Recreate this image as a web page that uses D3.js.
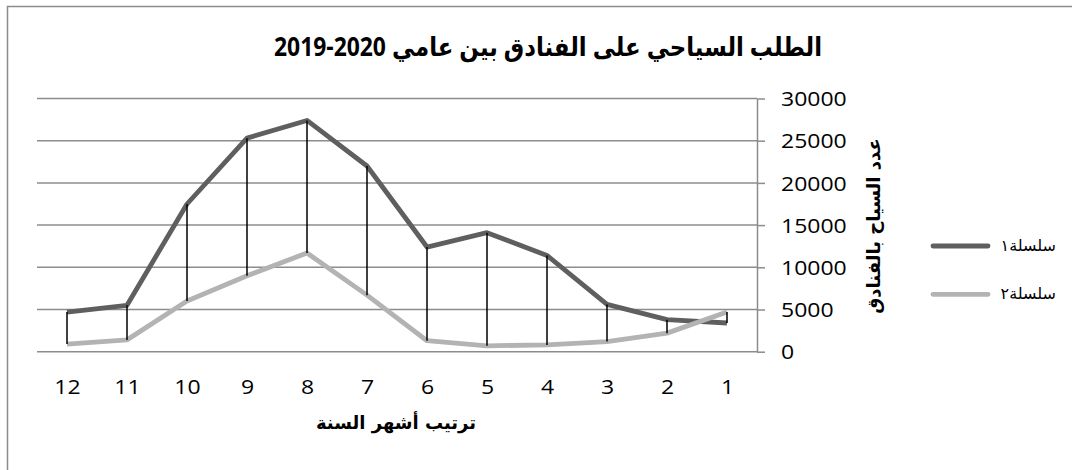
<!DOCTYPE html>
<html>
<head>
<meta charset="utf-8">
<script src="https://cdn.jsdelivr.net/npm/d3@7"></script>
<style>
  body { margin: 0; background: #fff; }
  svg { display: block; }
</style>
</head>
<body>
<div id="chart"></div>
<script>
// data (month 1 .. 12)
const months   = [1, 2, 3, 4, 5, 6, 7, 8, 9, 10, 11, 12];
const series1  = [3400, 3800, 5600, 11400, 14100, 12400, 22000, 27400, 25300, 17500, 5500, 4700];
const series2  = [4700, 2200, 1200, 800, 700, 1300, 6700, 11700, 9000, 6000, 1400, 900];
const yTicks   = [0, 5000, 10000, 15000, 20000, 25000, 30000];
const names    = ["سلسلة١", "سلسلة٢"];
const colors   = ["#5f5f5f", "#b3b3b3"];

const title  = "الطلب السياحي على الفنادق بين عامي 2020-2019";
const xTitle = "ترتيب أشهر السنة";
const yTitle = "عدد السياح بالفنادق";

const width = 1072, height = 470;
const plotLeft = 37, plotRight = 757, plotTop = 98.5, plotBottom = 351.7;
const gridColor = "#8c8c8c";
const numFont = "'Open Sans', 'DejaVu Sans', sans-serif";

const svg = d3.select("#chart").append("svg")
  .attr("width", width)
  .attr("height", height);

// outer frame (only left and top edges are visible)
svg.append("path")
  .attr("d", "M7.5," + height + "V6.5H" + width)
  .attr("fill", "none")
  .attr("stroke", gridColor)
  .attr("stroke-width", 1.5);

// month axis runs right to left
const x = d3.scalePoint()
  .domain(months.slice().reverse())
  .range([plotLeft, plotRight])
  .padding(0.5);

const y = d3.scaleLinear()
  .domain([0, 30000])
  .range([plotBottom, plotTop]);

// gridlines
svg.append("g")
  .selectAll("line")
  .data(yTicks)
  .enter().append("line")
    .attr("x1", plotLeft)
    .attr("x2", plotRight)
    .attr("y1", function(d) { return y(d); })
    .attr("y2", function(d) { return y(d); })
    .attr("stroke", gridColor)
    .attr("stroke-width", 1.5);

// value axis on the right
const yAxis = svg.append("g")
  .attr("transform", "translate(" + plotRight + ",0)")
  .call(d3.axisRight(y).tickValues(yTicks).tickSizeInner(8).tickSizeOuter(0).tickFormat(d3.format("d")));

yAxis.select(".domain").attr("stroke", gridColor).attr("stroke-width", 1.5);
yAxis.selectAll(".tick line").attr("stroke", gridColor).attr("stroke-width", 1.5);
yAxis.selectAll(".tick text")
  .attr("x", null)
  .attr("dy", "0.36em")
  .attr("transform", "translate(24,0) scale(1.15,1)")
  .style("font-family", numFont)
  .style("font-size", "20px")
  .attr("fill", "#000");

// month axis
const xAxis = svg.append("g")
  .attr("transform", "translate(0," + plotBottom + ")")
  .call(d3.axisBottom(x).tickSize(0));

xAxis.select(".domain").remove();
xAxis.selectAll(".tick text")
  .attr("y", null)
  .attr("dy", null)
  .attr("transform", "translate(0,42) scale(1.15,1)")
  .style("font-family", numFont)
  .style("font-size", "20px")
  .attr("fill", "#000");

// series lines
const line = d3.line()
  .x(function(d) { return x(d.m); })
  .y(function(d) { return y(d.v); });

[series1, series2].forEach(function(s, i) {
  const pts = months.map(function(m, j) { return { m: m, v: s[j] }; });
  svg.append("path")
    .datum(pts)
    .attr("d", line)
    .attr("fill", "none")
    .attr("stroke", colors[i])
    .attr("stroke-width", 4.8)
    .attr("stroke-linejoin", "round");
});

// high-low lines
svg.append("g")
  .selectAll("line")
  .data(months)
  .enter().append("line")
    .attr("x1", function(d) { return x(d); })
    .attr("x2", function(d) { return x(d); })
    .attr("y1", function(d, i) { return y(series1[i]); })
    .attr("y2", function(d, i) { return y(series2[i]); })
    .attr("stroke", "#000")
    .attr("stroke-width", 1.5);

// titles
svg.append("text")
  .attr("transform", "translate(548,56) scale(0.88,1)")
  .attr("text-anchor", "middle")
  .style("font-family", numFont)
  .style("font-weight", "bold")
  .style("font-size", "26px")
  .text(title);

svg.append("text")
  .attr("x", 396)
  .attr("y", 429)
  .attr("text-anchor", "middle")
  .style("font-family", "'DejaVu Sans', sans-serif")
  .style("font-weight", "bold")
  .style("font-size", "18px")
  .text(xTitle);

svg.append("text")
  .attr("transform", "translate(880,226) rotate(-90)")
  .attr("text-anchor", "middle")
  .style("font-family", "'DejaVu Sans', sans-serif")
  .style("font-weight", "bold")
  .style("font-size", "18px")
  .text(yTitle);

// legend
const legend = svg.append("g")
  .selectAll("g")
  .data(names)
  .enter().append("g")
    .attr("transform", function(d, i) { return "translate(0," + (246 + i * 48.3) + ")"; });

legend.append("line")
  .attr("x1", 933)
  .attr("x2", 988)
  .attr("stroke", function(d, i) { return colors[i]; })
  .attr("stroke-width", 4.8)
  .attr("stroke-linecap", "round");

legend.append("text")
  .attr("x", 1056)
  .attr("y", 5)
  .attr("text-anchor", "end")
  .style("font-family", "'DejaVu Sans', sans-serif")
  .style("font-size", "16px")
  .text(function(d) { return d; });
</script>
</body>
</html>
